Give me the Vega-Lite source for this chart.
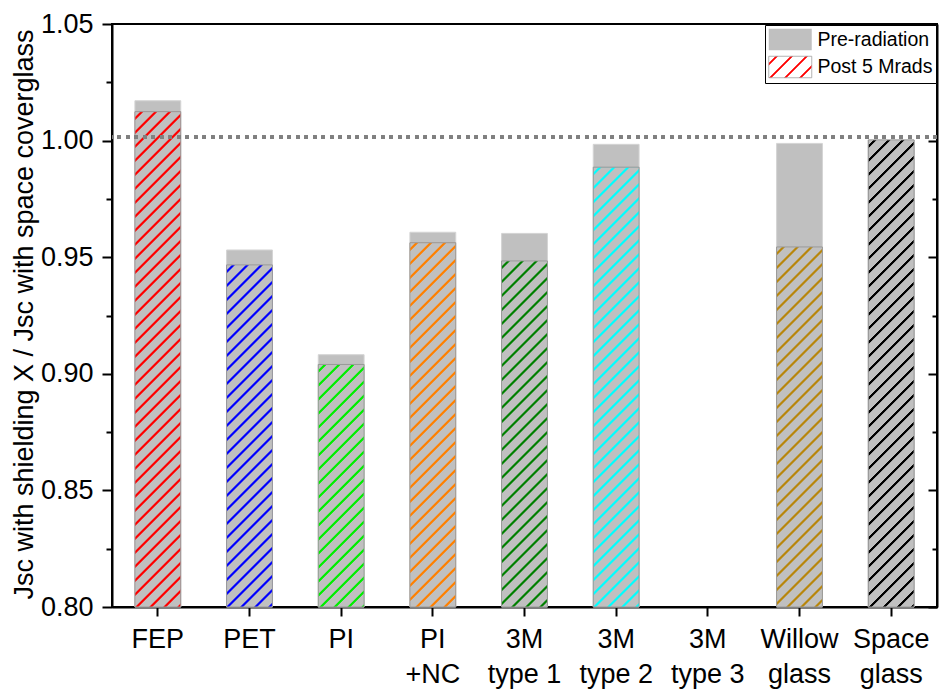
{
  "$schema": "https://vega.github.io/schema/vega-lite/v6.json",
  "width": 825,
  "height": 583,
  "autosize": {"type": "none"},
  "padding": {"left": 112, "top": 24, "right": 2, "bottom": 85},
  "background": "white",
  "params": [
    {
      "name": "hatchStops",
      "value": [
        {"offset": 0.009, "color": "#c0c0c0"}, {"offset": 0.0105, "color": "rgba(192,192,192,0)"}, {"offset": 0.0145, "color": "rgba(192,192,192,0)"}, {"offset": 0.016, "color": "#c0c0c0"},
        {"offset": 0.034, "color": "#c0c0c0"}, {"offset": 0.0355, "color": "rgba(192,192,192,0)"}, {"offset": 0.0395, "color": "rgba(192,192,192,0)"}, {"offset": 0.041, "color": "#c0c0c0"},
        {"offset": 0.059, "color": "#c0c0c0"}, {"offset": 0.0605, "color": "rgba(192,192,192,0)"}, {"offset": 0.0645, "color": "rgba(192,192,192,0)"}, {"offset": 0.066, "color": "#c0c0c0"},
        {"offset": 0.084, "color": "#c0c0c0"}, {"offset": 0.0855, "color": "rgba(192,192,192,0)"}, {"offset": 0.0895, "color": "rgba(192,192,192,0)"}, {"offset": 0.091, "color": "#c0c0c0"},
        {"offset": 0.109, "color": "#c0c0c0"}, {"offset": 0.1105, "color": "rgba(192,192,192,0)"}, {"offset": 0.1145, "color": "rgba(192,192,192,0)"}, {"offset": 0.116, "color": "#c0c0c0"},
        {"offset": 0.134, "color": "#c0c0c0"}, {"offset": 0.1355, "color": "rgba(192,192,192,0)"}, {"offset": 0.1395, "color": "rgba(192,192,192,0)"}, {"offset": 0.141, "color": "#c0c0c0"},
        {"offset": 0.159, "color": "#c0c0c0"}, {"offset": 0.1605, "color": "rgba(192,192,192,0)"}, {"offset": 0.1645, "color": "rgba(192,192,192,0)"}, {"offset": 0.166, "color": "#c0c0c0"},
        {"offset": 0.184, "color": "#c0c0c0"}, {"offset": 0.1855, "color": "rgba(192,192,192,0)"}, {"offset": 0.1895, "color": "rgba(192,192,192,0)"}, {"offset": 0.191, "color": "#c0c0c0"},
        {"offset": 0.209, "color": "#c0c0c0"}, {"offset": 0.2105, "color": "rgba(192,192,192,0)"}, {"offset": 0.2145, "color": "rgba(192,192,192,0)"}, {"offset": 0.216, "color": "#c0c0c0"},
        {"offset": 0.234, "color": "#c0c0c0"}, {"offset": 0.2355, "color": "rgba(192,192,192,0)"}, {"offset": 0.2395, "color": "rgba(192,192,192,0)"}, {"offset": 0.241, "color": "#c0c0c0"},
        {"offset": 0.259, "color": "#c0c0c0"}, {"offset": 0.2605, "color": "rgba(192,192,192,0)"}, {"offset": 0.2645, "color": "rgba(192,192,192,0)"}, {"offset": 0.266, "color": "#c0c0c0"},
        {"offset": 0.284, "color": "#c0c0c0"}, {"offset": 0.2855, "color": "rgba(192,192,192,0)"}, {"offset": 0.2895, "color": "rgba(192,192,192,0)"}, {"offset": 0.291, "color": "#c0c0c0"},
        {"offset": 0.309, "color": "#c0c0c0"}, {"offset": 0.3105, "color": "rgba(192,192,192,0)"}, {"offset": 0.3145, "color": "rgba(192,192,192,0)"}, {"offset": 0.316, "color": "#c0c0c0"},
        {"offset": 0.334, "color": "#c0c0c0"}, {"offset": 0.3355, "color": "rgba(192,192,192,0)"}, {"offset": 0.3395, "color": "rgba(192,192,192,0)"}, {"offset": 0.341, "color": "#c0c0c0"},
        {"offset": 0.359, "color": "#c0c0c0"}, {"offset": 0.3605, "color": "rgba(192,192,192,0)"}, {"offset": 0.3645, "color": "rgba(192,192,192,0)"}, {"offset": 0.366, "color": "#c0c0c0"},
        {"offset": 0.384, "color": "#c0c0c0"}, {"offset": 0.3855, "color": "rgba(192,192,192,0)"}, {"offset": 0.3895, "color": "rgba(192,192,192,0)"}, {"offset": 0.391, "color": "#c0c0c0"},
        {"offset": 0.409, "color": "#c0c0c0"}, {"offset": 0.4105, "color": "rgba(192,192,192,0)"}, {"offset": 0.4145, "color": "rgba(192,192,192,0)"}, {"offset": 0.416, "color": "#c0c0c0"},
        {"offset": 0.434, "color": "#c0c0c0"}, {"offset": 0.4355, "color": "rgba(192,192,192,0)"}, {"offset": 0.4395, "color": "rgba(192,192,192,0)"}, {"offset": 0.441, "color": "#c0c0c0"},
        {"offset": 0.459, "color": "#c0c0c0"}, {"offset": 0.4605, "color": "rgba(192,192,192,0)"}, {"offset": 0.4645, "color": "rgba(192,192,192,0)"}, {"offset": 0.466, "color": "#c0c0c0"},
        {"offset": 0.484, "color": "#c0c0c0"}, {"offset": 0.4855, "color": "rgba(192,192,192,0)"}, {"offset": 0.4895, "color": "rgba(192,192,192,0)"}, {"offset": 0.491, "color": "#c0c0c0"},
        {"offset": 0.509, "color": "#c0c0c0"}, {"offset": 0.5105, "color": "rgba(192,192,192,0)"}, {"offset": 0.5145, "color": "rgba(192,192,192,0)"}, {"offset": 0.516, "color": "#c0c0c0"},
        {"offset": 0.534, "color": "#c0c0c0"}, {"offset": 0.5355, "color": "rgba(192,192,192,0)"}, {"offset": 0.5395, "color": "rgba(192,192,192,0)"}, {"offset": 0.541, "color": "#c0c0c0"},
        {"offset": 0.559, "color": "#c0c0c0"}, {"offset": 0.5605, "color": "rgba(192,192,192,0)"}, {"offset": 0.5645, "color": "rgba(192,192,192,0)"}, {"offset": 0.566, "color": "#c0c0c0"},
        {"offset": 0.584, "color": "#c0c0c0"}, {"offset": 0.5855, "color": "rgba(192,192,192,0)"}, {"offset": 0.5895, "color": "rgba(192,192,192,0)"}, {"offset": 0.591, "color": "#c0c0c0"},
        {"offset": 0.609, "color": "#c0c0c0"}, {"offset": 0.6105, "color": "rgba(192,192,192,0)"}, {"offset": 0.6145, "color": "rgba(192,192,192,0)"}, {"offset": 0.616, "color": "#c0c0c0"},
        {"offset": 0.634, "color": "#c0c0c0"}, {"offset": 0.6355, "color": "rgba(192,192,192,0)"}, {"offset": 0.6395, "color": "rgba(192,192,192,0)"}, {"offset": 0.641, "color": "#c0c0c0"},
        {"offset": 0.659, "color": "#c0c0c0"}, {"offset": 0.6605, "color": "rgba(192,192,192,0)"}, {"offset": 0.6645, "color": "rgba(192,192,192,0)"}, {"offset": 0.666, "color": "#c0c0c0"},
        {"offset": 0.684, "color": "#c0c0c0"}, {"offset": 0.6855, "color": "rgba(192,192,192,0)"}, {"offset": 0.6895, "color": "rgba(192,192,192,0)"}, {"offset": 0.691, "color": "#c0c0c0"},
        {"offset": 0.709, "color": "#c0c0c0"}, {"offset": 0.7105, "color": "rgba(192,192,192,0)"}, {"offset": 0.7145, "color": "rgba(192,192,192,0)"}, {"offset": 0.716, "color": "#c0c0c0"},
        {"offset": 0.734, "color": "#c0c0c0"}, {"offset": 0.7355, "color": "rgba(192,192,192,0)"}, {"offset": 0.7395, "color": "rgba(192,192,192,0)"}, {"offset": 0.741, "color": "#c0c0c0"},
        {"offset": 0.759, "color": "#c0c0c0"}, {"offset": 0.7605, "color": "rgba(192,192,192,0)"}, {"offset": 0.7645, "color": "rgba(192,192,192,0)"}, {"offset": 0.766, "color": "#c0c0c0"},
        {"offset": 0.784, "color": "#c0c0c0"}, {"offset": 0.7855, "color": "rgba(192,192,192,0)"}, {"offset": 0.7895, "color": "rgba(192,192,192,0)"}, {"offset": 0.791, "color": "#c0c0c0"},
        {"offset": 0.809, "color": "#c0c0c0"}, {"offset": 0.8105, "color": "rgba(192,192,192,0)"}, {"offset": 0.8145, "color": "rgba(192,192,192,0)"}, {"offset": 0.816, "color": "#c0c0c0"},
        {"offset": 0.834, "color": "#c0c0c0"}, {"offset": 0.8355, "color": "rgba(192,192,192,0)"}, {"offset": 0.8395, "color": "rgba(192,192,192,0)"}, {"offset": 0.841, "color": "#c0c0c0"},
        {"offset": 0.859, "color": "#c0c0c0"}, {"offset": 0.8605, "color": "rgba(192,192,192,0)"}, {"offset": 0.8645, "color": "rgba(192,192,192,0)"}, {"offset": 0.866, "color": "#c0c0c0"},
        {"offset": 0.884, "color": "#c0c0c0"}, {"offset": 0.8855, "color": "rgba(192,192,192,0)"}, {"offset": 0.8895, "color": "rgba(192,192,192,0)"}, {"offset": 0.891, "color": "#c0c0c0"},
        {"offset": 0.909, "color": "#c0c0c0"}, {"offset": 0.9105, "color": "rgba(192,192,192,0)"}, {"offset": 0.9145, "color": "rgba(192,192,192,0)"}, {"offset": 0.916, "color": "#c0c0c0"},
        {"offset": 0.934, "color": "#c0c0c0"}, {"offset": 0.9355, "color": "rgba(192,192,192,0)"}, {"offset": 0.9395, "color": "rgba(192,192,192,0)"}, {"offset": 0.941, "color": "#c0c0c0"},
        {"offset": 0.959, "color": "#c0c0c0"}, {"offset": 0.9605, "color": "rgba(192,192,192,0)"}, {"offset": 0.9645, "color": "rgba(192,192,192,0)"}, {"offset": 0.966, "color": "#c0c0c0"},
        {"offset": 0.984, "color": "#c0c0c0"}, {"offset": 0.9855, "color": "rgba(192,192,192,0)"}, {"offset": 0.9895, "color": "rgba(192,192,192,0)"}, {"offset": 0.991, "color": "#c0c0c0"}
      ]
    }
  ],
  "data": {
    "values": [
      {"material": "FEP", "pre": 1.0171, "post": 1.0124},
      {"material": "PET", "pre": 0.9531, "post": 0.9467},
      {"material": "PI", "pre": 0.9082, "post": 0.904},
      {"material": "PI +NC", "pre": 0.9607, "post": 0.9562},
      {"material": "3M type 1", "pre": 0.9602, "post": 0.9484},
      {"material": "3M type 2", "pre": 0.9984, "post": 0.9886},
      {"material": "3M type 3", "pre": null, "post": null},
      {"material": "Willow glass", "pre": 0.9988, "post": 0.9544},
      {"material": "Space glass", "pre": 1.0003, "post": 1.0003}
    ]
  },
  "resolve": {"axis": {"y": "independent"}},
  "layer": [
    {
      "mark": {"type": "bar", "color": "#c0c0c0", "stroke": "#d4d4d4", "strokeWidth": 1},
      "encoding": {
        "x": {
          "field": "material", "type": "nominal",
          "scale": {"domain": ["FEP", "PET", "PI", "PI +NC", "3M type 1", "3M type 2", "3M type 3", "Willow glass", "Space glass"], "paddingInner": 0.5, "paddingOuter": 0.25},
          "axis": {"title": null, "labelAngle": 0, "labelFontSize": 27, "tickSize": 9, "labelPadding": 10, "labelLineHeight": 35, "labelBaseline": "top",
                   "labelExpr": "indexof(datum.label, ' ') > 0 ? [substring(datum.label, 0, indexof(datum.label, ' ')), substring(datum.label, indexof(datum.label, ' ') + 1)] : datum.label"}
        },
        "y": {
          "field": "pre", "type": "quantitative",
          "scale": {"domain": [0.8, 1.05], "nice": false, "zero": false},
          "axis": {"orient": "left", "values": [0.8, 0.85, 0.9, 0.95, 1.0, 1.05], "format": ".2f", "tickSize": 10, "labelFontSize": 27, "labelPadding": 9, "labelFlush": false, "labelOverlap": false,
                   "title": "Jsc with shielding X / Jsc with space coverglass", "titleFontSize": 27, "titleX": -80, "titleY": 290, "titleAngle": -90, "titleAlign": "center", "titleBaseline": "alphabetic"}
        },
        "y2": {"datum": 0.8},
        "opacity": {
          "datum": "Pre-radiation", "type": "nominal",
          "scale": {"domain": ["Pre-radiation", "Post 5 Mrads"], "range": [1, 1]},
          "legend": {
            "title": null, "orient": "top-right", "offset": 1, "padding": 3,
            "strokeColor": "black", "fillColor": "white",
            "symbolType": "M-1,-1H3V1H-1Z", "symbolSize": 462.25,
            "labelOffset": 26.5, "rowPadding": 2.5, "labelFontSize": 19.5, "labelColor": "black", "labelFont": "Liberation Sans",
            "encoding": {
              "symbols": {
                "fill": {
                  "condition": {
                    "test": "datum.value === 'Post 5 Mrads'",
                    "value": {"gradient": "linear", "x1": 0, "y1": 0, "x2": 1.2, "y2": 0.6, "stops": [
                      {"offset": 0.096, "color": "#ffffff"}, {"offset": 0.112, "color": "#ff0000"}, {"offset": 0.136, "color": "#ff0000"}, {"offset": 0.152, "color": "#ffffff"},
                      {"offset": 0.329, "color": "#ffffff"}, {"offset": 0.345, "color": "#ff0000"}, {"offset": 0.369, "color": "#ff0000"}, {"offset": 0.385, "color": "#ffffff"},
                      {"offset": 0.561, "color": "#ffffff"}, {"offset": 0.577, "color": "#ff0000"}, {"offset": 0.601, "color": "#ff0000"}, {"offset": 0.617, "color": "#ffffff"},
                      {"offset": 0.794, "color": "#ffffff"}, {"offset": 0.81, "color": "#ff0000"}, {"offset": 0.834, "color": "#ff0000"}, {"offset": 0.85, "color": "#ffffff"}
                    ]}
                  },
                  "value": "#c0c0c0"
                },
                "fillOpacity": {"value": 1},
                "stroke": {"condition": {"test": "datum.value === 'Post 5 Mrads'", "value": "#a0a0a0"}, "value": "transparent"},
                "strokeWidth": {"value": 0.8}
              }
            }
          }
        }
      }
    },
    {
      "mark": {"type": "bar"},
      "encoding": {
        "x": {"field": "material", "type": "nominal", "axis": {"title": null, "labelAngle": 0, "labelFontSize": 27, "tickSize": 9, "labelPadding": 10, "labelLineHeight": 35, "labelBaseline": "top",
                   "labelExpr": "indexof(datum.label, ' ') > 0 ? [substring(datum.label, 0, indexof(datum.label, ' ')), substring(datum.label, indexof(datum.label, ' ') + 1)] : datum.label"}},
        "y": {
          "field": "post", "type": "quantitative",
          "scale": {"domain": [0.8, 1.05], "nice": false, "zero": false},
          "axis": {"orient": "right", "values": [0.8, 0.85, 0.9, 0.95, 1.0, 1.05], "tickSize": -9, "labels": false, "title": null}
        },
        "y2": {"datum": 0.8},
        "fill": {
          "field": "material", "type": "nominal",
          "scale": {"domain": ["FEP", "PET", "PI", "PI +NC", "3M type 1", "3M type 2", "Willow glass", "Space glass"],
                    "range": ["#ff0000", "#0000ff", "#00ee00", "#ff8000", "#008000", "#00ffff", "#b8860b", "#000000"]},
          "legend": null
        }
      }
    },
    {
      "mark": {
        "type": "bar", "stroke": "#9a9a9a", "strokeWidth": 1,
        "fill": {"expr": "{gradient: 'linear', x1: 0, y1: 0, x2: 560 * 45.83 / (2100.4 + pow((datum.post - 0.8) * 2332, 2)), y2: 560 * (datum.post - 0.8) * 2332 / (2100.4 + pow((datum.post - 0.8) * 2332, 2)), stops: hatchStops}"}
      },
      "encoding": {
        "x": {"field": "material", "type": "nominal", "axis": {"title": null, "labelAngle": 0, "labelFontSize": 27, "tickSize": 9, "labelPadding": 10, "labelLineHeight": 35, "labelBaseline": "top",
                   "labelExpr": "indexof(datum.label, ' ') > 0 ? [substring(datum.label, 0, indexof(datum.label, ' ')), substring(datum.label, indexof(datum.label, ' ') + 1)] : datum.label"}},
        "y": {
          "field": "post", "type": "quantitative",
          "scale": {"domain": [0.8, 1.05], "nice": false, "zero": false},
          "axis": {"orient": "left", "values": [0.825, 0.875, 0.925, 0.975, 1.025], "tickSize": 6, "labels": false, "domain": false, "title": null}
        },
        "y2": {"datum": 0.8}
      }
    },
    {
      "mark": {"type": "rule", "color": "#808080", "strokeWidth": 3.3, "strokeDash": [3.5, 5]},
      "encoding": {
        "y": {
          "datum": 1.0015, "type": "quantitative",
          "scale": {"domain": [0.8, 1.05], "nice": false, "zero": false},
          "axis": {"orient": "right", "values": [0.825, 0.875, 0.925, 0.975, 1.025], "tickSize": -5, "labels": false, "domain": false, "title": null}
        }
      }
    }
  ],
  "config": {
    "font": "Liberation Sans",
    "view": {"stroke": "black", "strokeWidth": 2},
    "axis": {
      "domainColor": "black", "domainWidth": 2, "tickColor": "black", "tickWidth": 2,
      "labelColor": "black", "labelFont": "Liberation Sans", "grid": false,
      "titleFont": "Liberation Sans", "titleFontWeight": "normal", "titleColor": "black"
    }
  }
}
